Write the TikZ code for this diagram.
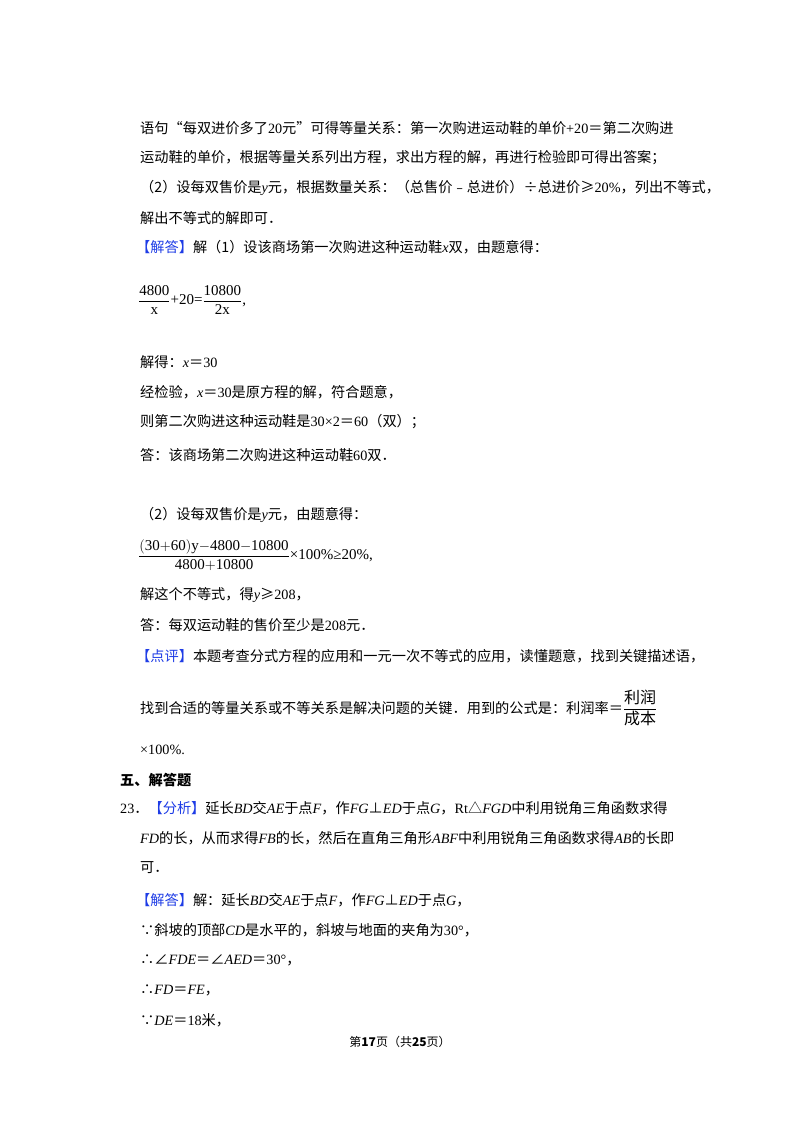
\documentclass[tikz,border=0pt]{standalone}
\usepackage{amsmath}
\usepackage{fontspec}
\setmainfont{Liberation Serif}
\newfontfamily\cjk{Noto Sans CJK SC}
\definecolor{tagblue}{RGB}{30,60,230}
\newcommand{\tg}[1]{{\color{tagblue}【#1】}}
\newcommand{\vi}[1]{{\rmfamily\itshape #1}}
\newcommand{\eqz}{{\cjk ＝}}
\begin{document}
\begin{tikzpicture}[x=1pt,y=-1pt,
  ln/.style={anchor=west,inner sep=0pt,font=\cjk\fontsize{14.2}{16}\selectfont}]
\useasboundingbox (0,0) rectangle (800,1132);
\fill[white] (0,0) rectangle (800,1132);
\node[ln] (l1) at (140,128) {语句“每双进价多了{\rmfamily 20}元”可得等量关系：第一次购进运动鞋的单价{\rmfamily +20}＝第二次购进};
\node[ln] (l2) at (140,158) {运动鞋的单价，根据等量关系列出方程，求出方程的解，再进行检验即可得出答案；};
\node[ln] (l3) at (140,188) {（2）设每双售价是\vi{y}元，根据数量关系：（总售价﹣总进价）÷总进价≥{\rmfamily 20\%}，列出不等式，};
\node[ln] (l4) at (140,218) {解出不等式的解即可．};
\node[ln] (l5) at (136,247) {\tg{解答}解（1）设该商场第一次购进这种运动鞋\vi{x}双，由题意得：};
\node[ln,font=\rmfamily\fontsize{15}{17}\selectfont] (f1) at (138,300) {$\dfrac{\mathrm{4800}}{\mathrm{x}}$+20=$\dfrac{\mathrm{10800}}{\mathrm{2x}}$,};
\node[ln] (l6) at (140,362) {解得：\vi{x}＝{\rmfamily 30}};
\node[ln] (l7) at (140,392) {经检验，\vi{x}＝{\rmfamily 30}是原方程的解，符合题意，};
\node[ln] (l8) at (140,422) {则第二次购进这种运动鞋是{\rmfamily 30×2}＝{\rmfamily 60}（双）；};
\node[ln] (l9) at (140,455) {答：该商场第二次购进这种运动鞋{\rmfamily 60}双．};
\node[ln] (l10) at (140,515) {（2）设每双售价是\vi{y}元，由题意得：};
\node[ln,font=\rmfamily\fontsize{15}{17}\selectfont] (f2) at (138,555) {$\dfrac{\mathrm{(30{+}60)y{-}4800{-}10800}}{\mathrm{4800{+}10800}}$×100\%≥20\%,};
\node[ln] (l11) at (140,595) {解这个不等式，得\vi{y}≥{\rmfamily 208}，};
\node[ln] (l12) at (140,625) {答：每双运动鞋的售价至少是{\rmfamily 208}元．};
\node[ln] (l13) at (136,656) {\tg{点评}本题考查分式方程的应用和一元一次不等式的应用，读懂题意，找到关键描述语，};
\node[ln] (l14) at (140,708) {找到合适的等量关系或不等关系是解决问题的关键．用到的公式是：利润率＝$\dfrac{\hbox{\cjk\fontsize{16}{18}\selectfont 利润}}{\hbox{\cjk\fontsize{16}{18}\selectfont 成本}}$};
\node[ln] (l15) at (140,750) {{\rmfamily ×100\%.}};
\node[ln,font=\cjk\bfseries\fontsize{14.2}{16}\selectfont] (h) at (120,780) {五、解答题};
\node[ln] (l16) at (120,808) {{\rmfamily 23}．\tg{分析}延长\vi{BD}交\vi{AE}于点\vi{F}，作\vi{FG}⊥\vi{ED}于点\vi{G}，{\rmfamily Rt}△\vi{FGD}中利用锐角三角函数求得};
\node[ln] (l17) at (140,838) {\vi{FD}的长，从而求得\vi{FB}的长，然后在直角三角形\vi{ABF}中利用锐角三角函数求得\vi{AB}的长即};
\node[ln] (l18) at (140,868) {可．};
\node[ln] (l19) at (136,900) {\tg{解答}解：延长\vi{BD}交\vi{AE}于点\vi{F}，作\vi{FG}⊥\vi{ED}于点\vi{G}，};
\node[ln] (l20) at (140,930) {∵斜坡的顶部\vi{CD}是水平的，斜坡与地面的夹角为{\rmfamily 30°}，};
\node[ln] (l21) at (140,960) {∴∠\vi{FDE}＝∠\vi{AED}＝{\rmfamily 30°}，};
\node[ln] (l22) at (140,990) {∴\vi{FD}＝\vi{FE}，};
\node[ln] (l23) at (140,1020) {∵\vi{DE}＝{\rmfamily 18}米，};
\node[inner sep=0pt,font=\cjk\fontsize{12}{14}\selectfont] (pg) at (400,1042) {第{\bfseries 17}页（共{\bfseries 25}页）};
\end{tikzpicture}
\end{document}
